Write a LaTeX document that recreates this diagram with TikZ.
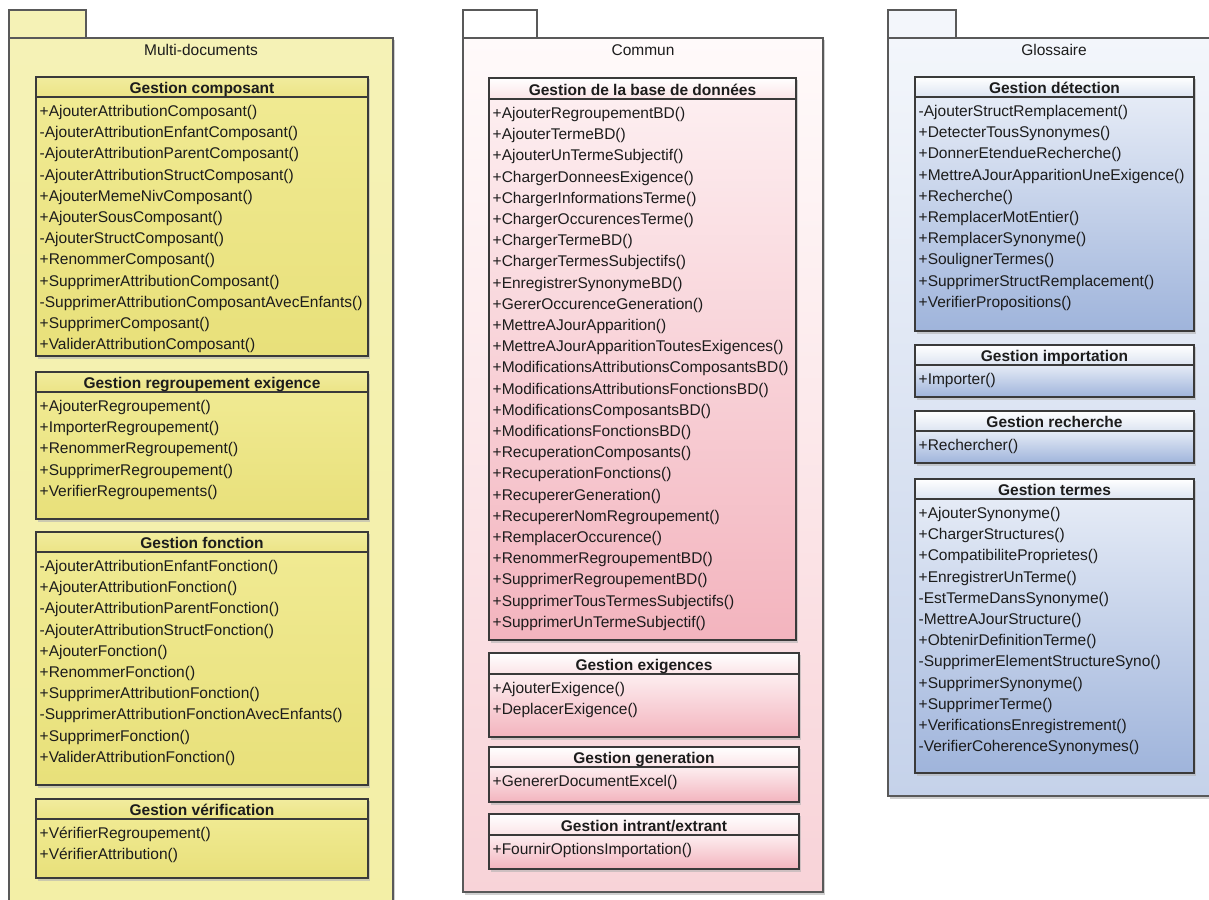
\documentclass[tikz,border=0pt]{standalone}
\usepackage{fontspec}
\setmainfont{Liberation Sans}
\definecolor{YpkA}{HTML}{F5F2B6}
\definecolor{YpkB}{HTML}{F3EFA6}
\definecolor{YhdA}{HTML}{F1EC9E}
\definecolor{YhdB}{HTML}{ECE486}
\definecolor{YbdA}{HTML}{F0EA92}
\definecolor{YbdB}{HTML}{E8E07A}
\definecolor{PpkA}{HTML}{FFFAFA}
\definecolor{PpkB}{HTML}{F8D3D8}
\definecolor{PhdA}{HTML}{FFFFFF}
\definecolor{PhdB}{HTML}{FBE4E7}
\definecolor{PbdA}{HTML}{FDEEF0}
\definecolor{PbdB}{HTML}{F3B4BE}
\definecolor{BpkA}{HTML}{F3F6FB}
\definecolor{BpkB}{HTML}{C5D2EA}
\definecolor{BhdA}{HTML}{FFFFFF}
\definecolor{BhdB}{HTML}{DCE4F1}
\definecolor{BbdA}{HTML}{E5EBF6}
\definecolor{BbdB}{HTML}{9FB4DB}
\definecolor{txt}{HTML}{1C1C1C}
\definecolor{edge}{HTML}{3A3A3A}
\tikzset{
  pkgline/.style={draw=black!65, line width=1.3pt},
  clsline/.style={draw=edge, line width=1.5pt},
  hdr/.style={font=\bfseries\fontsize{15.5}{18}\selectfont, text=txt, inner sep=0pt, anchor=base},
  itm/.style={font=\fontsize{15.5}{18}\selectfont, text=txt, inner sep=0pt, anchor=base west},
  ptitle/.style={font=\fontsize{15.5}{18}\selectfont, text=txt, inner sep=0pt, anchor=base},
  shadowfill/.style={fill=black!30, opacity=0.6}
}
% #1 name, #2 x1, #3 x2, #4 ytop, #5 yhead, #6 ybot, #7 colour prefix, #8 title, #9 items
\newcommand\UC[9]{%
  \fill[shadowfill] ({#2+2},{#4+2}) rectangle ({#3+2},{#6+2.5});
  \shade[top color=#7hdA, bottom color=#7hdB] (#2,#4) rectangle (#3,#5);
  \shade[top color=#7bdA, bottom color=#7bdB] (#2,#5) rectangle (#3,#6);
  \draw[clsline] (#2,#4) rectangle (#3,#6);
  \draw[clsline] (#2,#5) -- (#3,#5);
  \node[hdr] (#1) at ({(#2+#3)/2},{#5-3.5}) {#8};
  \foreach \t [count=\i] in {#9} {\node[itm] (#1-\i) at ({#2+3.5},{#5+19.5+21.2*(\i-1)}) {\t};}
}
% #1 name, #2 x1, #3 x2, #4 tab right, #5 ybot, #6 colour prefix, #7 title, #8 tab fill
\newcommand\PK[8]{%
  \fill[shadowfill] ({#2+2},{38+2}) rectangle ({#3+2},{#5+2.5});
  \fill[#8] (#2,10) rectangle (#4,38);
  \draw[pkgline] (#2,38) -- (#2,10) -- (#4,10) -- (#4,38);
  \shade[top color=#6pkA, bottom color=#6pkB] (#2,38) rectangle (#3,#5);
  \draw[pkgline] (#2,38) rectangle (#3,#5);
  \node[ptitle] (#1) at ({(#2+#3)/2},56) {#7};
}
\begin{document}
\begin{tikzpicture}[x=1pt,y=-1pt]
\useasboundingbox[fill=white] (0,0) rectangle (1209,899);
% ---------- Multi-documents ----------
\PK{pmd}{9}{393}{86}{905}{Y}{Multi-documents}{YpkA}
\UC{gcomp}{36}{368}{77}{97}{356}{Y}{Gestion composant}{+AjouterAttributionComposant(),-AjouterAttributionEnfantComposant(),-AjouterAttributionParentComposant(),-AjouterAttributionStructComposant(),+AjouterMemeNivComposant(),+AjouterSousComposant(),-AjouterStructComposant(),+RenommerComposant(),+SupprimerAttributionComposant(),-SupprimerAttributionComposantAvecEnfants(),+SupprimerComposant(),+ValiderAttributionComposant()}
\UC{greg}{36}{368}{372}{392}{519}{Y}{Gestion regroupement exigence}{+AjouterRegroupement(),+ImporterRegroupement(),+RenommerRegroupement(),+SupprimerRegroupement(),+VerifierRegroupements()}
\UC{gfonc}{36}{368}{532}{552}{785}{Y}{Gestion fonction}{-AjouterAttributionEnfantFonction(),+AjouterAttributionFonction(),-AjouterAttributionParentFonction(),-AjouterAttributionStructFonction(),+AjouterFonction(),+RenommerFonction(),+SupprimerAttributionFonction(),-SupprimerAttributionFonctionAvecEnfants(),+SupprimerFonction(),+ValiderAttributionFonction()}
\UC{gverif}{36}{368}{799}{819}{878}{Y}{Gestion vérification}{+VérifierRegroupement(),+VérifierAttribution()}
% ---------- Commun ----------
\PK{pcom}{463}{823}{537}{892}{P}{Commun}{white}
\UC{gbd}{489}{796}{78}{99}{640}{P}{Gestion de la base de données}{+AjouterRegroupementBD(),+AjouterTermeBD(),+AjouterUnTermeSubjectif(),+ChargerDonneesExigence(),+ChargerInformationsTerme(),+ChargerOccurencesTerme(),+ChargerTermeBD(),+ChargerTermesSubjectifs(),+EnregistrerSynonymeBD(),+GererOccurenceGeneration(),+MettreAJourApparition(),+MettreAJourApparitionToutesExigences(),+ModificationsAttributionsComposantsBD(),+ModificationsAttributionsFonctionsBD(),+ModificationsComposantsBD(),+ModificationsFonctionsBD(),+RecuperationComposants(),+RecuperationFonctions(),+RecupererGeneration(),+RecupererNomRegroupement(),+RemplacerOccurence(),+RenommerRegroupementBD(),+SupprimerRegroupementBD(),+SupprimerTousTermesSubjectifs(),+SupprimerUnTermeSubjectif()}
\UC{gexig}{489}{799}{653}{674}{737}{P}{Gestion exigences}{+AjouterExigence(),+DeplacerExigence()}
\UC{ggen}{489}{799}{747}{767}{802}{P}{Gestion generation}{+GenererDocumentExcel()}
\UC{gio}{489}{799}{814}{835}{869}{P}{Gestion intrant/extrant}{+FournirOptionsImportation()}
% ---------- Glossaire ----------
\PK{pglo}{888}{1220}{956}{796}{B}{Glossaire}{BpkA}
\UC{gdet}{915}{1194}{77}{97}{331}{B}{Gestion détection}{-AjouterStructRemplacement(),+DetecterTousSynonymes(),+DonnerEtendueRecherche(),+MettreAJourApparitionUneExigence(),+Recherche(),+RemplacerMotEntier(),+RemplacerSynonyme(),+SoulignerTermes(),+SupprimerStructRemplacement(),+VerifierPropositions()}
\UC{gimp}{915}{1194}{345}{365}{397}{B}{Gestion importation}{+Importer()}
\UC{grech}{915}{1194}{411}{431}{463}{B}{Gestion recherche}{+Rechercher()}
\UC{gterm}{915}{1194}{479}{499}{773}{B}{Gestion termes}{+AjouterSynonyme(),+ChargerStructures(),+CompatibiliteProprietes(),+EnregistrerUnTerme(),-EstTermeDansSynonyme(),-MettreAJourStructure(),+ObtenirDefinitionTerme(),-SupprimerElementStructureSyno(),+SupprimerSynonyme(),+SupprimerTerme(),+VerificationsEnregistrement(),-VerifierCoherenceSynonymes()}
\end{tikzpicture}
\end{document}
